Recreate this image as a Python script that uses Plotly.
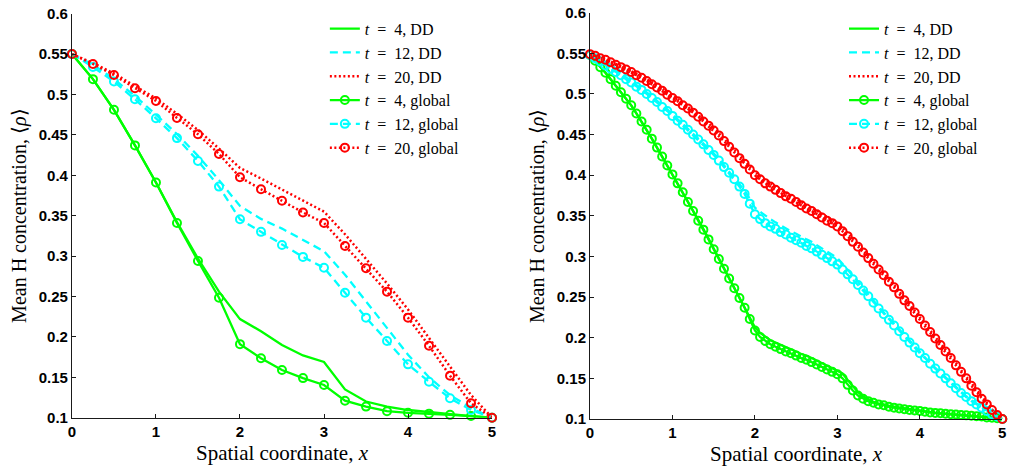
import plotly.graph_objects as go

# ---------------- data ----------------
x_coarse = [0, 0.25, 0.5, 0.75, 1.0, 1.25, 1.5, 1.75, 2.0, 2.25, 2.5, 2.75, 3.0,
            3.25, 3.5, 3.75, 4.0, 4.25, 4.5, 4.75, 5.0]

dd4_left = [0.55, 0.519, 0.481, 0.437, 0.391, 0.342, 0.297, 0.256, 0.222, 0.207, 0.190,
            0.177, 0.169, 0.135, 0.120, 0.1136, 0.1095, 0.107, 0.104, 0.102, 0.100]
dd12_left = [0.55, 0.537, 0.519, 0.498, 0.475, 0.451, 0.424, 0.394, 0.362, 0.346, 0.334,
             0.320, 0.306, 0.277, 0.244, 0.210, 0.178, 0.150, 0.128, 0.112, 0.100]
dd20_left = [0.55, 0.539, 0.526, 0.511, 0.495, 0.476, 0.456, 0.433, 0.409, 0.396, 0.382,
             0.368, 0.355, 0.327, 0.297, 0.266, 0.234, 0.199, 0.163, 0.128, 0.100]
gl4_left = [0.55, 0.519, 0.481, 0.437, 0.391, 0.341, 0.294, 0.2485, 0.191, 0.1735, 0.159,
            0.149, 0.1405, 0.121, 0.1137, 0.108, 0.106, 0.105, 0.1035, 0.102, 0.100]
gl12_left = [0.55, 0.534, 0.516, 0.494, 0.4705, 0.446, 0.4177, 0.386, 0.3455, 0.330, 0.3137,
             0.299, 0.2855, 0.2547, 0.2238, 0.195, 0.166, 0.1445, 0.124, 0.1095, 0.100]
gl20_left = [0.55, 0.5378, 0.524, 0.5077, 0.492, 0.471, 0.4507, 0.4264, 0.3975, 0.3827, 0.3685,
             0.354, 0.341, 0.3125, 0.285, 0.256, 0.2238, 0.189, 0.152, 0.1178, 0.100]

x_fine = [0, 0.0625, 0.125, 0.1875, 0.25, 0.3125, 0.375, 0.4375, 0.5, 0.5625, 0.625, 0.6875,
          0.75, 0.8125, 0.875, 0.9375, 1.0, 1.0625, 1.125, 1.1875, 1.25, 1.3125, 1.375, 1.4375,
          1.5, 1.5625, 1.625, 1.6875, 1.75, 1.8125, 1.875, 1.9375, 2.0, 2.0625, 2.125, 2.1875,
          2.25, 2.3125, 2.375, 2.4375, 2.5, 2.5625, 2.625, 2.6875, 2.75, 2.8125, 2.875, 2.9375,
          3.0, 3.0625, 3.125, 3.1875, 3.25, 3.3125, 3.375, 3.4375, 3.5, 3.5625, 3.625, 3.6875,
          3.75, 3.8125, 3.875, 3.9375, 4.0, 4.0625, 4.125, 4.1875, 4.25, 4.3125, 4.375, 4.4375,
          4.5, 4.5625, 4.625, 4.6875, 4.75, 4.8125, 4.875, 4.9375, 5.0]

gl4_right = [0.548, 0.541, 0.533, 0.526, 0.518, 0.510, 0.502, 0.494, 0.486, 0.476, 0.466, 0.456,
             0.445, 0.434, 0.423, 0.412, 0.401, 0.390, 0.379, 0.367, 0.356, 0.344, 0.333, 0.321,
             0.309, 0.297, 0.285, 0.273, 0.261, 0.249, 0.237, 0.223, 0.209, 0.201, 0.196, 0.192,
             0.189, 0.186, 0.183, 0.181, 0.178, 0.175, 0.173, 0.170, 0.167, 0.164, 0.161, 0.158,
             0.155, 0.150, 0.142, 0.135, 0.129, 0.125, 0.122, 0.120, 0.118, 0.117, 0.115, 0.114,
             0.113, 0.112, 0.111, 0.1105, 0.110, 0.109, 0.108, 0.1075, 0.107, 0.1065, 0.106, 0.1055,
             0.105, 0.1045, 0.104, 0.1035, 0.103, 0.102, 0.1015, 0.101, 0.100]
dd4_right = [0.548, 0.541, 0.533, 0.526, 0.518, 0.510, 0.502, 0.494, 0.486, 0.476, 0.466, 0.456,
             0.445, 0.434, 0.423, 0.412, 0.401, 0.390, 0.379, 0.368, 0.357, 0.345, 0.334, 0.322,
             0.310, 0.298, 0.286, 0.274, 0.262, 0.250, 0.238, 0.226, 0.213, 0.206, 0.201, 0.197,
             0.194, 0.191, 0.188, 0.186, 0.183, 0.180, 0.178, 0.175, 0.172, 0.169, 0.166, 0.163,
             0.160, 0.156, 0.148, 0.140, 0.133, 0.128, 0.124, 0.121, 0.119, 0.118, 0.116, 0.115,
             0.114, 0.113, 0.112, 0.111, 0.110, 0.109, 0.108, 0.1075, 0.107, 0.1065, 0.106, 0.1055,
             0.105, 0.1045, 0.104, 0.1035, 0.103, 0.102, 0.1015, 0.101, 0.100]
gl12_right = [0.548, 0.544, 0.540, 0.535, 0.531, 0.527, 0.523, 0.518, 0.514, 0.509, 0.505, 0.500,
              0.495, 0.490, 0.484, 0.479, 0.473, 0.467, 0.462, 0.456, 0.450, 0.444, 0.438, 0.431,
              0.425, 0.418, 0.410, 0.403, 0.395, 0.386, 0.377, 0.365, 0.352, 0.346, 0.341, 0.337,
              0.334, 0.330, 0.327, 0.323, 0.320, 0.317, 0.313, 0.310, 0.306, 0.302, 0.298, 0.294,
              0.290, 0.284, 0.278, 0.272, 0.265, 0.258, 0.251, 0.243, 0.236, 0.229, 0.222, 0.215,
              0.208, 0.201, 0.194, 0.188, 0.181, 0.175, 0.168, 0.162, 0.156, 0.150, 0.144, 0.138,
              0.132, 0.127, 0.122, 0.118, 0.114, 0.110, 0.106, 0.103, 0.100]
dd12_right = [0.548, 0.545, 0.541, 0.537, 0.533, 0.529, 0.525, 0.520, 0.516, 0.511, 0.507, 0.502,
              0.497, 0.492, 0.486, 0.481, 0.475, 0.469, 0.464, 0.458, 0.452, 0.446, 0.440, 0.433,
              0.427, 0.420, 0.412, 0.405, 0.397, 0.389, 0.381, 0.371, 0.360, 0.355, 0.350, 0.346,
              0.342, 0.338, 0.335, 0.331, 0.328, 0.325, 0.321, 0.318, 0.314, 0.310, 0.306, 0.302,
              0.298, 0.291, 0.284, 0.277, 0.269, 0.261, 0.254, 0.246, 0.238, 0.231, 0.224, 0.217,
              0.210, 0.203, 0.196, 0.190, 0.183, 0.176, 0.169, 0.163, 0.157, 0.151, 0.145, 0.139,
              0.133, 0.128, 0.123, 0.119, 0.115, 0.111, 0.107, 0.103, 0.100]
gl20_right = [0.549, 0.547, 0.544, 0.542, 0.539, 0.536, 0.533, 0.530, 0.527, 0.523, 0.520, 0.516,
              0.512, 0.508, 0.504, 0.499, 0.495, 0.491, 0.486, 0.482, 0.477, 0.472, 0.466, 0.461,
              0.455, 0.449, 0.442, 0.435, 0.428, 0.421, 0.414, 0.407, 0.400, 0.395, 0.390, 0.386,
              0.382, 0.378, 0.374, 0.371, 0.367, 0.363, 0.359, 0.356, 0.352, 0.348, 0.344, 0.341,
              0.337, 0.331, 0.325, 0.318, 0.312, 0.305, 0.298, 0.291, 0.284, 0.277, 0.269, 0.262,
              0.254, 0.246, 0.239, 0.231, 0.223, 0.215, 0.207, 0.199, 0.191, 0.183, 0.175, 0.166,
              0.158, 0.150, 0.141, 0.133, 0.125, 0.118, 0.111, 0.105, 0.100]
dd20_right = [0.549, 0.547, 0.545, 0.543, 0.540, 0.537, 0.534, 0.531, 0.529, 0.525, 0.522, 0.518,
              0.515, 0.511, 0.507, 0.502, 0.498, 0.494, 0.489, 0.485, 0.480, 0.475, 0.469, 0.464,
              0.458, 0.452, 0.445, 0.438, 0.431, 0.424, 0.417, 0.410, 0.404, 0.399, 0.394, 0.390,
              0.386, 0.382, 0.378, 0.375, 0.371, 0.367, 0.363, 0.360, 0.356, 0.352, 0.348, 0.345,
              0.341, 0.335, 0.329, 0.322, 0.315, 0.308, 0.301, 0.294, 0.287, 0.280, 0.272, 0.265,
              0.257, 0.249, 0.242, 0.234, 0.226, 0.218, 0.210, 0.202, 0.194, 0.186, 0.177, 0.169,
              0.160, 0.152, 0.143, 0.135, 0.127, 0.119, 0.112, 0.105, 0.100]

x_ticks = [0, 1, 2, 3, 4, 5]
x_ticklabels = ["0", "1", "2", "3", "4", "5"]
y_ticks = [0.1, 0.15, 0.2, 0.25, 0.3, 0.35, 0.4, 0.45, 0.5, 0.55, 0.6]
y_ticklabels = ["0.1", "0.15", "0.2", "0.25", "0.3", "0.35", "0.4", "0.45", "0.5", "0.55", "0.6"]

names = ["<i>t</i>\u2002=\u20024, DD", "<i>t</i>\u2002=\u200212, DD", "<i>t</i>\u2002=\u200220, DD",
         "<i>t</i>\u2002=\u20024, global", "<i>t</i>\u2002=\u200212, global", "<i>t</i>\u2002=\u200220, global"]

# ---------------- styles ----------------
GREEN, CYAN, RED = "#00FF00", "#00FFFF", "#FF0000"
DASH = "8px,5px"
DOT = "2px,2.5px"
styles = [
    dict(color=GREEN, dash="solid", width=2.3),
    dict(color=CYAN, dash=DASH, width=2.3),
    dict(color=RED, dash=DOT, width=2.5),
]

fig = go.Figure()

def add_panel(x, series_dd, series_gl, xa, ya, legend):
    for s, y, nm in zip(styles, series_dd, names[:3]):
        fig.add_trace(go.Scatter(x=x, y=y, mode="lines", name=nm, line=s,
                                 xaxis=xa, yaxis=ya, legend=legend, cliponaxis=False))
    for s, y, nm in zip(styles, series_gl, names[3:]):
        fig.add_trace(go.Scatter(x=x, y=y, mode="lines+markers", name=nm, line=s,
                                 marker=dict(symbol="circle-open", size=8, color=s["color"],
                                             line=dict(width=2, color=s["color"])),
                                 xaxis=xa, yaxis=ya, legend=legend, cliponaxis=False))

add_panel(x_coarse, [dd4_left, dd12_left, dd20_left], [gl4_left, gl12_left, gl20_left],
          "x", "y", "legend")
add_panel(x_fine, [dd4_right, dd12_right, dd20_right], [gl4_right, gl12_right, gl20_right],
          "x2", "y2", "legend2")

tickfont = dict(family="Liberation Sans, Arial, sans-serif", size=15, color="black")
serif = "Liberation Serif, Times New Roman, serif"

def bold(labels):
    return ["<b>%s</b>" % s for s in labels]

def xaxis(domain, anchor):
    return dict(domain=domain, anchor=anchor, range=[0, 5], tickvals=x_ticks, ticktext=bold(x_ticklabels),
                showline=True, linecolor="#1a1a1a", linewidth=1, mirror=False, showgrid=False,
                zeroline=False, ticks="inside", ticklen=4, tickcolor="#1a1a1a", tickfont=tickfont,
                automargin=False,
                title=dict(text="Spatial coordinate, <i>x</i>", font=dict(family=serif, size=21, color="black"),
                           standoff=6))

def yaxis(domain, anchor):
    return dict(domain=domain, anchor=anchor, range=[0.1, 0.6], tickvals=y_ticks, ticktext=bold(y_ticklabels),
                showline=True, linecolor="#1a1a1a", linewidth=1, mirror=False, showgrid=False,
                zeroline=False, ticks="inside", ticklen=4, tickcolor="#1a1a1a", tickfont=tickfont,
                automargin=False,
                title=dict(text="Mean H concentration, \u27e8<i>\u03c1</i>\u27e9",
                           font=dict(family=serif, size=20, color="black"), standoff=6))

legfont = dict(family=serif, size=16, color="black")

fig.update_layout(
    width=1012, height=470,
    margin=dict(l=0, r=0, t=0, b=0),
    paper_bgcolor="white", plot_bgcolor="white",
    xaxis=xaxis([0.0711, 0.4862], "y"),
    yaxis=yaxis([0.1113, 0.9709], "x"),
    xaxis2=xaxis([0.583, 0.9904], "y2"),
    yaxis2=yaxis([0.1085, 0.973], "x2"),
    legend=dict(x=0.321, y=0.975, xanchor="left", yanchor="top", bgcolor="rgba(0,0,0,0)",
                font=legfont, tracegroupgap=0),
    legend2=dict(x=0.834, y=0.975, xanchor="left", yanchor="top", bgcolor="rgba(0,0,0,0)",
                 font=legfont, tracegroupgap=0),
    showlegend=True,
)

fig.write_html("out.html")
